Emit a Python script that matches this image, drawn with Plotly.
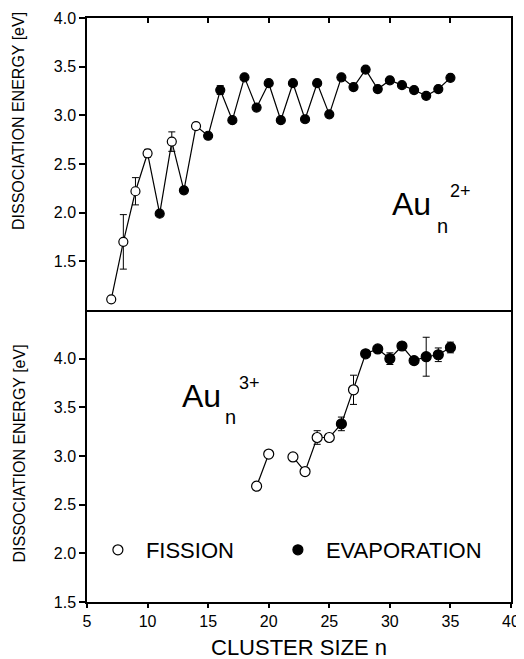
import plotly.graph_objects as go

# ---------------- data ----------------
top_n = list(range(7, 36))
top_energy = [1.11, 1.70, 2.22, 2.61, 1.99, 2.73, 2.23, 2.89, 2.79, 3.26,
              2.95, 3.39, 3.08, 3.33, 2.95, 3.33, 2.96, 3.33, 3.01, 3.39,
              3.29, 3.47, 3.27, 3.36, 3.31, 3.26, 3.20, 3.27, 3.385]
top_error = [0.015, 0.28, 0.14, 0.04, None, 0.10, None, 0.03, None, 0.045,
             None, None, None, None, None, None, None, None, None, None,
             None, None, None, None, None, None, None, None, None]
top_process = ["F", "F", "F", "F", "E", "F", "E", "F", "E", "E",
               "E", "E", "E", "E", "E", "E", "E", "E", "E", "E",
               "E", "E", "E", "E", "E", "E", "E", "E", "E"]

bottom_n = [19, 20, 22, 23, 24, 25, 26, 27, 28, 29, 30, 31, 32, 33, 34, 35]
bottom_energy = [2.69, 3.02, 2.99, 2.84, 3.19, 3.19, 3.33, 3.68, 4.05, 4.10,
                 4.00, 4.13, 3.98, 4.02, 4.04, 4.115]
bottom_error = [None, None, None, None, 0.07, None, 0.07, 0.15, None, None,
                0.06, None, None, 0.20, 0.07, 0.055]
bottom_process = ["F", "F", "F", "F", "F", "F", "E", "F", "E", "E",
                  "E", "E", "E", "E", "E", "E"]

y_tick_values = [1.5, 2.0, 2.5, 3.0, 3.5, 4.0]
y_tick_labels = ["1.5", "2.0", "2.5", "3.0", "3.5", "4.0"]

FONT = "Liberation Sans, Arial, Helvetica, sans-serif"
BLACK = "black"


def line_arrays(ns, vals):
    xs, ys = [], []
    for i, (n, v) in enumerate(zip(ns, vals)):
        if i > 0 and n - ns[i - 1] > 1:
            xs.append(None)
            ys.append(None)
        xs.append(n)
        ys.append(v)
    return xs, ys


def subset(ns, vals, errs, procs, kind):
    idx = [i for i, p in enumerate(procs) if p == kind]
    return ([ns[i] for i in idx], [vals[i] for i in idx], [errs[i] for i in idx])


fig = go.Figure()

panels = [("x2", "y", top_n, top_energy, top_error, top_process, False, 9),
          ("x", "y2", bottom_n, bottom_energy, bottom_error, bottom_process, True, 10)]

for xa, ya, ns, vals, errs, procs, legend, msize in panels:
    lx, ly = line_arrays(ns, vals)
    fig.add_trace(go.Scatter(x=lx, y=ly, mode="lines", xaxis=xa, yaxis=ya,
                             line=dict(color=BLACK, width=1.2),
                             connectgaps=False, showlegend=False, hoverinfo="skip"))
    for kind, name, fill, leg in [("F", "FISSION", "white", "legend"),
                                  ("E", "EVAPORATION", BLACK, "legend2")]:
        sx, sy, se = subset(ns, vals, errs, procs, kind)
        fig.add_trace(go.Scatter(
            x=sx, y=sy, mode="markers", xaxis=xa, yaxis=ya, name=name,
            showlegend=legend, legend=leg,
            marker=dict(symbol="circle", size=msize, color=fill,
                        line=dict(color=BLACK, width=1.2)),
            error_y=dict(type="data", array=se, visible=True, color=BLACK,
                         thickness=1, width=3.5)))

axis_common = dict(linecolor=BLACK, linewidth=1.5, automargin=False,
                   showgrid=False, zeroline=False, tickcolor=BLACK,
                   tickfont=dict(family=FONT, size=16, color=BLACK))


def tick_axis(overlay, anchor, side, rng, dtick, length, width):
    """decorative overlay axis: only inside tick marks, no line, no labels"""
    return dict(**axis_common, overlaying=overlay, anchor=anchor, side=side,
                range=rng, tick0=rng[0], dtick=dtick, ticks="inside",
                ticklen=length, tickwidth=width, showline=False,
                showticklabels=False)


legend_common = dict(orientation="h", xanchor="left", yanchor="middle",
                     font=dict(family=FONT, size=22, color=BLACK),
                     bgcolor="rgba(0,0,0,0)", borderwidth=0, itemwidth=46,
                     itemsizing="trace")

MAJ_W, MIN_W = 1.8, 1.5

# the page body has an 8px margin, so the figure is 8px smaller than the window
fig.update_layout(
    width=516, height=651,
    margin=dict(l=79, r=13, t=10, b=57),
    paper_bgcolor="white", plot_bgcolor="white",
    font=dict(family=FONT, color=BLACK),
    # bottom panel x axis (labels)
    xaxis=dict(**axis_common, domain=[0, 1], anchor="y2", range=[5, 40],
               tick0=5, dtick=5, ticks="outside", ticklen=4, tickwidth=MAJ_W,
               showline=True, mirror=False),
    # top panel x axis (top edge + mirrored middle line)
    xaxis2=dict(**axis_common, domain=[0, 1], anchor="y", range=[5, 40], side="top",
                showticklabels=False, tick0=5, dtick=5, ticks="inside", ticklen=5,
                tickwidth=MAJ_W, showline=True, mirror=True),
    xaxis3=tick_axis("x", "y2", "top", [5, 40], 5, 5, MAJ_W),
    xaxis4=tick_axis("x2", "y", "top", [5, 40], 1, 3, MIN_W),
    xaxis5=tick_axis("x", "y2", "top", [5, 40], 1, 3, MIN_W),
    xaxis6=tick_axis("x", "y2", "bottom", [5, 40], 1, 3, MIN_W),
    yaxis=dict(**axis_common, domain=[0.5, 1], anchor="x2", range=[1.0, 4.0],
               tickvals=y_tick_values, ticktext=y_tick_labels,
               ticks="outside", ticklen=6, tickwidth=MAJ_W, showline=True, mirror=True),
    yaxis2=dict(**axis_common, domain=[0, 0.5], anchor="x", range=[1.5, 4.5],
                tickvals=y_tick_values, ticktext=y_tick_labels,
                ticks="outside", ticklen=6, tickwidth=MAJ_W, showline=True, mirror=True),
    yaxis3=tick_axis("y", "x2", "right", [1.0, 4.0], 0.5, 5, MAJ_W),
    yaxis5=tick_axis("y", "x2", "right", [1.0, 4.0], 0.1, 3, MIN_W),
    yaxis4=tick_axis("y2", "x", "right", [1.5, 4.5], 0.5, 5, MAJ_W),
    yaxis6=tick_axis("y2", "x", "right", [1.5, 4.5], 0.1, 3, MIN_W),
    legend=dict(**legend_common, x=(89.9 - 87) / 424, y=(602 - 550) / 584),
    legend2=dict(**legend_common, x=(269.9 - 87) / 424, y=(602 - 550) / 584),
)

annotations = [
    # y-axis titles
    dict(text="DISSOCIATION ENERGY [eV]", xref="paper", yref="paper",
         x=(19 - 87) / 424, y=(602 - 121) / 584, textangle=-90,
         font=dict(size=16)),
    dict(text="DISSOCIATION ENERGY [eV]", xref="paper", yref="paper",
         x=(19 - 87) / 424, y=(602 - 453.5) / 584, textangle=-90,
         font=dict(size=16)),
    # x-axis title
    dict(text="CLUSTER SIZE n", xref="paper", yref="paper",
         x=0.5, y=(602 - 647) / 584, font=dict(size=22)),
    # Au_n^2+
    dict(text="Au", xref="x2", yref="y", x=31.82, y=2.088, font=dict(size=32)),
    dict(text="n", xref="x2", yref="y", x=34.38, y=1.868, font=dict(size=20)),
    dict(text="2+", xref="x2", yref="y", x=35.83, y=2.221, font=dict(size=18)),
    # Au_n^3+
    dict(text="Au", xref="x", yref="y2", x=14.46, y=3.619, font=dict(size=32)),
    dict(text="n", xref="x", yref="y2", x=16.86, y=3.401, font=dict(size=20)),
    dict(text="3+", xref="x", yref="y2", x=18.39, y=3.752, font=dict(size=18)),
]
for a in annotations:
    a.setdefault("showarrow", False)
    a.setdefault("xanchor", "center")
    a.setdefault("yanchor", "middle")
    a["font"] = dict(family=FONT, color=BLACK, **a["font"])
fig.update_layout(annotations=annotations)

fig.write_html("out.html")
